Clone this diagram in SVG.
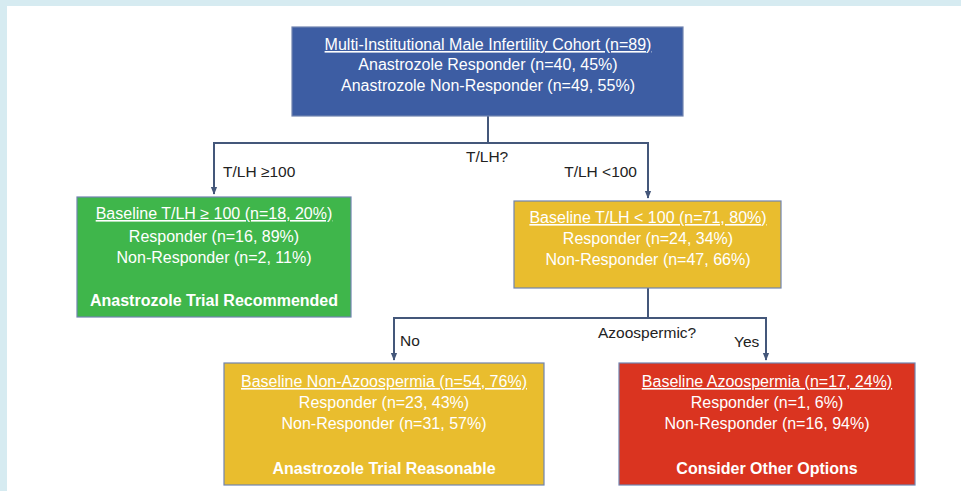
<svg xmlns="http://www.w3.org/2000/svg" width="961" height="491" viewBox="0 0 961 491">
<defs>
<marker id="ah" viewBox="0 0 10 10" refX="9" refY="5" markerWidth="4" markerHeight="4" orient="auto" markerUnits="strokeWidth">
<path d="M0,1 L10,5 L0,9 z" fill="#44577a"/>
</marker>
<style>
.box{stroke:#7184b0;stroke-width:1.2}
.t{font-family:"Liberation Sans","Noto Sans",sans-serif;font-size:16px;fill:#ffffff;text-anchor:middle}
.u{text-decoration:underline}
.b{font-weight:bold}
.lbl{font-family:"Liberation Sans","Noto Sans",sans-serif;font-size:15.5px;fill:#222222}
.c{fill:none;stroke:#44577a;stroke-width:2}
</style>
</defs>
<rect x="0" y="0" width="961" height="491" fill="#d6ebf1"/>
<rect x="7" y="6" width="954" height="485" fill="#ffffff"/>
<g id="connectors">
<path class="c" d="M488,116 V143"/>
<path class="c" d="M648,143 H214 V194" marker-end="url(#ah)"/>
<path class="c" d="M488,143 H648 V198" marker-end="url(#ah)"/>
<path class="c" d="M648,288 V318"/>
<path class="c" d="M648,318 H394 V360" marker-end="url(#ah)"/>
<path class="c" d="M648,318 H766 V360" marker-end="url(#ah)"/>
<text class="lbl" x="223" y="177">T/LH ≥100</text>
<text class="lbl" x="466" y="162">T/LH?</text>
<text class="lbl" x="637" y="177" text-anchor="end">T/LH &lt;100</text>
<text class="lbl" x="400" y="346">No</text>
<text class="lbl" x="598" y="338">Azoospermic?</text>
<text class="lbl" x="734" y="347">Yes</text>
</g>
<g id="cohort">
<rect class="box" x="292" y="27" width="391" height="89" fill="#3d5da3"/>
<text class="t u" x="488" y="50">Multi-Institutional Male Infertility Cohort (n=89)</text>
<text class="t" x="488" y="70">Anastrozole Responder (n=40, 45%)</text>
<text class="t" x="488" y="91">Anastrozole Non-Responder (n=49, 55%)</text>
</g>
<g id="high-tlh">
<rect class="box" x="77" y="197" width="274" height="120" fill="#3fb64b"/>
<text class="t u" x="214" y="219">Baseline T/LH ≥ 100 (n=18, 20%)</text>
<text class="t" x="214" y="242">Responder (n=16, 89%)</text>
<text class="t" x="214" y="263">Non-Responder (n=2, 11%)</text>
<text class="t b" x="214" y="306">Anastrozole Trial Recommended</text>
</g>
<g id="low-tlh">
<rect class="box" x="514" y="201" width="267" height="87" fill="#e9bd2e"/>
<text class="t u" x="648" y="223">Baseline T/LH &lt; 100 (n=71, 80%)</text>
<text class="t" x="648" y="244">Responder (n=24, 34%)</text>
<text class="t" x="648" y="265">Non-Responder (n=47, 66%)</text>
</g>
<g id="non-azoo">
<rect class="box" x="224" y="363" width="320" height="122" fill="#e9bd2e"/>
<text class="t u" x="384" y="387">Baseline Non-Azoospermia (n=54, 76%)</text>
<text class="t" x="384" y="408">Responder (n=23, 43%)</text>
<text class="t" x="384" y="429">Non-Responder (n=31, 57%)</text>
<text class="t b" x="384" y="474">Anastrozole Trial Reasonable</text>
</g>
<g id="azoo">
<rect class="box" x="619" y="363" width="296" height="122" fill="#da3420"/>
<text class="t u" x="767" y="387">Baseline Azoospermia (n=17, 24%)</text>
<text class="t" x="767" y="408">Responder (n=1, 6%)</text>
<text class="t" x="767" y="429">Non-Responder (n=16, 94%)</text>
<text class="t b" x="767" y="474">Consider Other Options</text>
</g>
</svg>
